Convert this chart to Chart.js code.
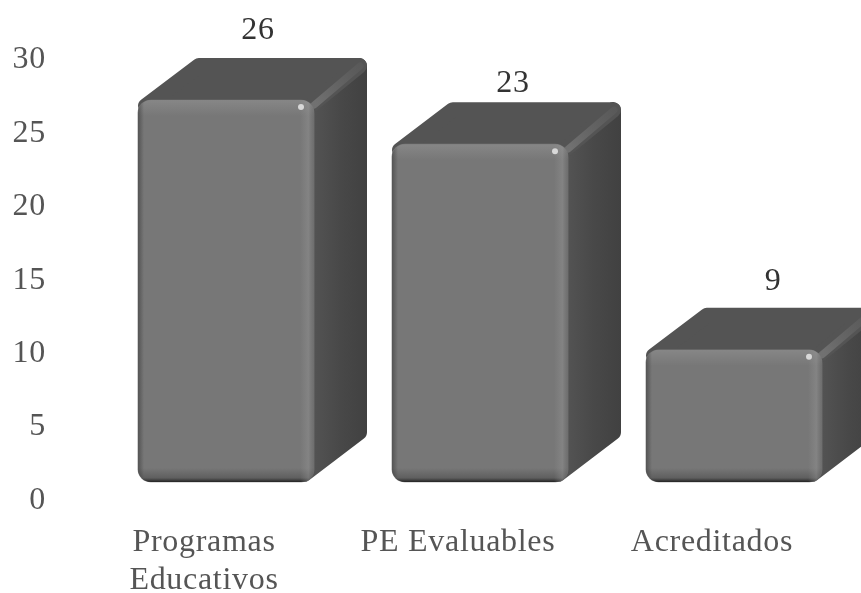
<!DOCTYPE html>
<html><head><meta charset="utf-8">
<style>html,body{margin:0;padding:0;background:#fff}#w{width:861px;height:593px;position:relative}</style>
<script src="https://cdn.jsdelivr.net/npm/chart.js@4"></script></head>
<body><div id="w"><canvas id="c" width="861" height="593"></canvas></div>
<script>
const categories = [["Programas","Educativos"],"PE Evaluables","Acreditados"];
const values = [26,23,9];
const tickStep = 5, axisMax = 30;
const FONT = '"Liberation Serif"';
const DX = 53, DY = 42, R = 13;
const labelShift = [32,33,39];
const labelLift = [69,61,68];

function rrPath(ctx,x,y,w,h,r){ctx.beginPath();ctx.roundRect(x,y,w,h,r);}
const cube = {
  id:'cube',
  afterLayout(chart){
    const y=chart.scales.y;
    y.top=41.3; y.bottom=482; y.height=y.bottom-y.top; y.configure();
  },
  beforeDraw(chart){ chart.ctx.letterSpacing='0.7px'; },
  beforeDatasetsDraw(chart){
    const ctx=chart.ctx;
    chart.getDatasetMeta(0).data.forEach(b=>{
      const l=b.x-b.width/2, r=b.x+b.width/2, t=b.y, bt=b.base;
      ctx.save();
      ctx.lineJoin='round'; ctx.lineWidth=R*1.2;
      const i=R*0.6;
      let sg=ctx.createLinearGradient(r,0,r+DX,0);
      sg.addColorStop(0,'#535353'); sg.addColorStop(.5,'#484848'); sg.addColorStop(1,'#414141');
      ctx.fillStyle=ctx.strokeStyle=sg;
      ctx.beginPath();
      ctx.moveTo(r-10,t+10); ctx.lineTo(r+DX-i,t-DY+i); ctx.lineTo(r+DX-i,bt-DY-i); ctx.lineTo(r-10,bt-i);
      ctx.closePath(); ctx.fill(); ctx.stroke();
      ctx.fillStyle=ctx.strokeStyle='#545454';
      ctx.beginPath();
      ctx.moveTo(l+i,t+6); ctx.lineTo(l+DX+i,t-DY+i); ctx.lineTo(r+DX-i,t-DY+i); ctx.lineTo(r-4,t+6);
      ctx.closePath(); ctx.fill(); ctx.stroke();
      const g=ctx.createLinearGradient(r,t,r+DX,t-DY);
      g.addColorStop(0,'rgba(125,125,125,.7)'); g.addColorStop(1,'rgba(95,95,95,.3)');
      ctx.strokeStyle=g; ctx.lineWidth=7; ctx.lineCap='round';
      ctx.beginPath(); ctx.moveTo(r,t+5); ctx.lineTo(r+DX-7,t-DY+8); ctx.stroke();
      ctx.restore();
    });
  },
  afterDatasetsDraw(chart){
    const ctx=chart.ctx;
    chart.getDatasetMeta(0).data.forEach((b,i)=>{
      const l=b.x-b.width/2, r=b.x+b.width/2, t=b.y, bt=b.base, w=b.width, h=bt-t;
      ctx.save();
      rrPath(ctx,l,t,w,h,R); ctx.clip();
      let g=ctx.createLinearGradient(0,t,0,t+16);
      g.addColorStop(0,'rgba(150,150,150,.5)'); g.addColorStop(1,'rgba(150,150,150,0)');
      ctx.fillStyle=g; ctx.fillRect(l,t,w,16);
      g=ctx.createLinearGradient(0,bt-14,0,bt);
      g.addColorStop(0,'rgba(40,40,40,0)'); g.addColorStop(.7,'rgba(40,40,40,.3)'); g.addColorStop(1,'rgba(25,25,25,.9)');
      ctx.fillStyle=g; ctx.fillRect(l,bt-14,w,14);
      g=ctx.createLinearGradient(l,0,l+6,0);
      g.addColorStop(0,'rgba(50,50,50,.5)'); g.addColorStop(1,'rgba(50,50,50,0)');
      ctx.fillStyle=g; ctx.fillRect(l,t,6,h);
      g=ctx.createLinearGradient(r-14,0,r,0);
      g.addColorStop(0,'rgba(150,150,150,0)'); g.addColorStop(.6,'rgba(150,150,150,.4)'); g.addColorStop(1,'rgba(90,90,90,.3)');
      ctx.fillStyle=g; ctx.fillRect(r-14,t,14,h);
      ctx.restore();
      ctx.fillStyle='#d8d8d8';
      ctx.beginPath(); ctx.arc(r-13,t+7,3,0,Math.PI*2); ctx.fill();
      ctx.fillStyle='#333'; ctx.font='32px '+FONT; ctx.textAlign='center'; ctx.textBaseline='middle';
      ctx.fillText(String(values[i]), b.x+labelShift[i], t-labelLift[i]);
    });
  }
};

new Chart(document.getElementById('c'),{
  type:'bar',
  data:{labels:categories,datasets:[{data:values,backgroundColor:'#777777',borderWidth:0,borderRadius:R,borderSkipped:false,barThickness:176,clip:false}]},
  options:{
    responsive:false,animation:false,
    layout:{autoPadding:false,padding:{top:10,left:0,right:0,bottom:0}},
    plugins:{legend:{display:false},tooltip:{enabled:false}},
    scales:{
      x:{grid:{display:false},border:{display:false},
        ticks:{font:{family:FONT,size:32,lineHeight:1.2},color:'#555',padding:33,labelOffset:-22,maxRotation:0,autoSkip:false},
        afterFit(s){s.height=111;}},
      y:{min:0,max:axisMax,grid:{display:false},border:{display:false},
        ticks:{stepSize:tickStep,font:{family:FONT,size:32},color:'#555',padding:45,labelOffset:18.5,drawTicks:false},
        afterFit(s){s.width=99;}}
    }
  },
  plugins:[cube]
});
</script></body></html>
